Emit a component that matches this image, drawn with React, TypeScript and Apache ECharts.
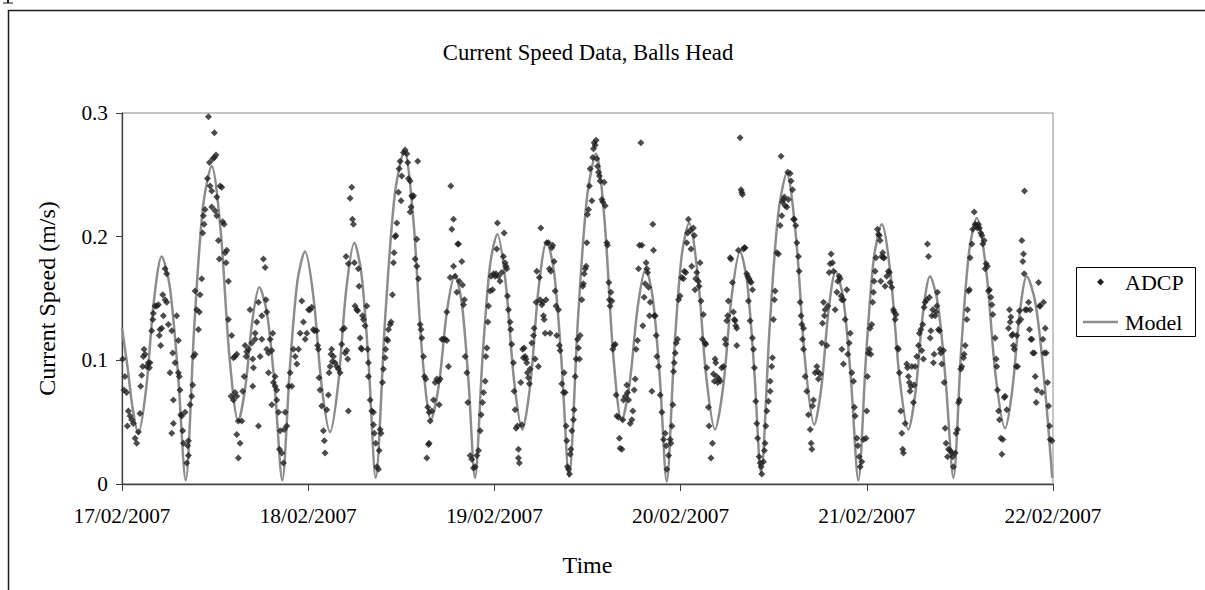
import React, { useEffect, useRef } from 'react';
import * as echarts from 'echarts';

// Axis tick labels
const dayLabels = ['17/02/2007', '18/02/2007', '19/02/2007', '20/02/2007', '21/02/2007', '22/02/2007'];
const speedTicks = ['0', '0.1', '0.2', '0.3'];

// Model current speed [hours since 17/02/2007 00:00, m/s]
const modelSpeed: [number, number][] = [
  [0, 0.126], [0.7, 0.095], [1.4, 0.06], [2.1, 0.041],
  [3.11, 0.077], [4.11, 0.148], [5.12, 0.184],
  [6.15, 0.16], [7.18, 0.092], [8.21, 0.003],
  [9.33, 0.129], [10.44, 0.224], [11.56, 0.257],
  [12.7, 0.206], [13.85, 0.103], [14.99, 0.051],
  [15.89, 0.078], [16.8, 0.132], [17.7, 0.159],
  [18.69, 0.138], [19.67, 0.08], [20.66, 0.003],
  [21.64, 0.094], [22.61, 0.164], [23.59, 0.188],
  [24.66, 0.152], [25.74, 0.079], [26.81, 0.042],
  [27.85, 0.08], [28.9, 0.157], [29.94, 0.195],
  [30.86, 0.17], [31.78, 0.098], [32.7, 0.005],
  [33.93, 0.135], [35.16, 0.234], [36.39, 0.269],
  [37.54, 0.215], [38.68, 0.106], [39.83, 0.052],
  [40.86, 0.081], [41.89, 0.14], [42.92, 0.169],
  [43.78, 0.147], [44.64, 0.085], [45.5, 0.005],
  [46.46, 0.101], [47.42, 0.176], [48.38, 0.202],
  [49.45, 0.163], [50.53, 0.084], [51.6, 0.044],
  [52.65, 0.082], [53.69, 0.158], [54.74, 0.196],
  [55.7, 0.171], [56.66, 0.098], [57.62, 0.006],
  [58.78, 0.134], [59.94, 0.232], [61.1, 0.267],
  [62.2, 0.213], [63.31, 0.105], [64.41, 0.051],
  [65.44, 0.082], [66.47, 0.143], [67.5, 0.174],
  [68.4, 0.151], [69.31, 0.087], [70.21, 0.002],
  [71.17, 0.106], [72.13, 0.184], [73.09, 0.211],
  [74.21, 0.169], [75.32, 0.086], [76.44, 0.044],
  [77.51, 0.08], [78.59, 0.152], [79.66, 0.188],
  [80.56, 0.164], [81.47, 0.094], [82.37, 0.009],
  [83.47, 0.126], [84.58, 0.218], [85.68, 0.251],
  [86.87, 0.2], [88.05, 0.099], [89.24, 0.048],
  [90.16, 0.079], [91.08, 0.141], [92.0, 0.172],
  [92.97, 0.15], [93.94, 0.086], [94.91, 0.003],
  [95.92, 0.105], [96.92, 0.183], [97.93, 0.21],
  [99.07, 0.169], [100.22, 0.086], [101.36, 0.044],
  [102.29, 0.075], [103.22, 0.137], [104.15, 0.168],
  [105.15, 0.146], [106.16, 0.084], [107.16, 0.005],
  [108.16, 0.108], [109.17, 0.187], [110.17, 0.215],
  [111.39, 0.173], [112.6, 0.088], [113.82, 0.045],
  [114.75, 0.076], [115.69, 0.137], [116.62, 0.168],
  [117.75, 0.146], [118.87, 0.084], [119.9, 0.005],
];

// ADCP measurements [hours since 17/02/2007 00:00, m/s], one list per day
const adcp17: [number, number][] = [
  [0.1, 0.101], [0.38, 0.087], [0.26, 0.076], [0.6, 0.074], [0.82, 0.059], [1.03, 0.055], [0.69, 0.047], [1.25, 0.052],
  [1.46, 0.049], [1.68, 0.037], [1.89, 0.033], [2.11, 0.042], [2.32, 0.057], [2.41, 0.079], [2.54, 0.088], [2.67, 0.095],
  [2.75, 0.103], [2.84, 0.109], [2.97, 0.105], [3.18, 0.095], [3.4, 0.098], [3.53, 0.094], [3.61, 0.098], [3.83, 0.124],
  [3.96, 0.133], [4.04, 0.138], [4.26, 0.144], [4.47, 0.144], [4.69, 0.145], [4.81, 0.12], [4.9, 0.125], [4.99, 0.112],
  [5.12, 0.126], [5.25, 0.153], [5.55, 0.149], [5.76, 0.147], [5.33, 0.136], [5.98, 0.129], [5.55, 0.174], [5.76, 0.17],
  [6.41, 0.124], [6.19, 0.09], [6.53, 0.106], [6.62, 0.068], [6.41, 0.041], [6.62, 0.049], [6.84, 0.098], [7.05, 0.136],
  [7.27, 0.116], [7.27, 0.09], [7.39, 0.087], [7.48, 0.076], [7.57, 0.056], [7.7, 0.055], [7.82, 0.043], [7.91, 0.033],
  [8.13, 0.058], [8.34, 0.017], [8.47, 0.031], [8.56, 0.035], [8.56, 0.023], [8.77, 0.064], [8.99, 0.071], [9.11, 0.08],
  [9.2, 0.103], [9.42, 0.105], [9.42, 0.156], [9.63, 0.141], [9.85, 0.125], [9.97, 0.139], [10.06, 0.153], [10.28, 0.166],
  [10.4, 0.203], [10.49, 0.217], [10.58, 0.21], [10.71, 0.222], [11.01, 0.247], [11.27, 0.26], [11.35, 0.241], [11.57, 0.237],
  [11.7, 0.263], [11.91, 0.264], [12.12, 0.266], [11.14, 0.297], [11.91, 0.284], [11.57, 0.224], [12.0, 0.221], [12.21, 0.217],
  [12.21, 0.232], [12.43, 0.197], [12.55, 0.182], [12.86, 0.24], [12.64, 0.241], [12.98, 0.212], [13.16, 0.21], [13.29, 0.187],
  [13.5, 0.189], [13.41, 0.179], [13.71, 0.164], [13.71, 0.133], [14.14, 0.12], [14.36, 0.102], [14.57, 0.103], [14.79, 0.105],
  [14.06, 0.071], [14.36, 0.068], [14.57, 0.074], [14.79, 0.071], [15.0, 0.051], [14.79, 0.04], [15.22, 0.033], [15.0, 0.021],
  [15.44, 0.051], [15.56, 0.075], [15.74, 0.087], [15.87, 0.112], [16.0, 0.103], [16.08, 0.107], [16.3, 0.109], [16.51, 0.141],
  [16.73, 0.114], [16.85, 0.101], [16.94, 0.094], [16.85, 0.079], [17.16, 0.117], [17.16, 0.122], [17.37, 0.131], [17.59, 0.047],
  [17.59, 0.147], [17.8, 0.103], [18.02, 0.117], [18.02, 0.136], [18.23, 0.182], [18.45, 0.175], [18.57, 0.149], [18.66, 0.139],
  [18.66, 0.109], [18.88, 0.106], [19.09, 0.117], [19.31, 0.108], [19.43, 0.122], [18.88, 0.09], [19.31, 0.064], [19.52, 0.082],
  [19.74, 0.079], [19.74, 0.087], [19.95, 0.068], [19.95, 0.076], [20.17, 0.058], [20.38, 0.043], [20.29, 0.028], [20.6, 0.025],
  [20.81, 0.017], [20.9, 0.044], [21.03, 0.058], [21.24, 0.047], [21.46, 0.079], [21.67, 0.09], [21.89, 0.079], [22.1, 0.109],
  [22.32, 0.103], [22.53, 0.097], [22.75, 0.109], [22.96, 0.122], [23.18, 0.148], [23.39, 0.131], [23.61, 0.117], [23.82, 0.122],
  [24.04, 0.141],
];

const adcp18: [number, number][] = [
  [24.24, 0.141], [24.45, 0.143], [24.67, 0.125], [24.79, 0.124], [25.1, 0.124], [25.22, 0.112], [25.31, 0.109], [25.4, 0.086],
  [25.53, 0.076], [25.74, 0.063], [25.96, 0.043], [26.08, 0.035], [26.17, 0.025], [26.39, 0.06], [26.6, 0.072], [26.69, 0.09],
  [26.82, 0.095], [26.94, 0.105], [27.03, 0.109], [27.12, 0.099], [27.25, 0.103], [27.46, 0.098], [27.68, 0.095], [27.89, 0.093],
  [28.11, 0.09], [28.32, 0.113], [28.41, 0.125], [28.66, 0.126], [28.75, 0.106], [28.97, 0.108], [29.09, 0.101], [29.18, 0.059],
  [28.88, 0.184], [29.18, 0.178], [29.4, 0.231], [29.61, 0.24], [29.7, 0.214], [29.83, 0.21], [29.95, 0.179], [30.04, 0.144],
  [30.26, 0.141], [30.38, 0.14], [30.47, 0.174], [30.56, 0.16], [30.69, 0.118], [30.81, 0.11], [30.9, 0.109], [30.99, 0.136],
  [31.12, 0.133], [31.33, 0.128], [31.55, 0.144], [31.67, 0.109], [31.76, 0.098], [31.76, 0.087], [31.98, 0.068], [32.19, 0.059],
  [32.41, 0.058], [32.41, 0.048], [32.53, 0.041], [32.71, 0.033], [32.84, 0.014], [33.05, 0.012], [33.14, 0.027], [33.27, 0.044],
  [33.39, 0.041], [33.57, 0.082], [33.7, 0.093], [33.91, 0.102], [33.99, 0.109], [34.13, 0.117], [34.25, 0.116], [34.34, 0.125],
  [34.56, 0.129], [34.68, 0.131], [34.86, 0.153], [34.99, 0.179], [35.07, 0.187], [35.2, 0.2], [35.29, 0.201], [35.42, 0.211],
  [35.63, 0.236], [35.72, 0.255], [35.85, 0.261], [35.97, 0.229], [36.06, 0.249], [36.28, 0.268], [36.49, 0.27], [36.71, 0.267],
  [36.83, 0.26], [36.92, 0.247], [37.14, 0.245], [37.35, 0.233], [37.44, 0.232], [37.26, 0.224], [37.14, 0.22], [37.57, 0.233],
  [38.0, 0.198], [38.12, 0.261], [37.78, 0.182], [38.0, 0.176], [38.21, 0.166], [38.43, 0.129], [38.55, 0.125], [38.64, 0.118],
  [38.86, 0.103], [38.98, 0.087], [39.16, 0.085], [39.41, 0.062], [39.59, 0.058], [39.72, 0.051], [39.29, 0.021], [39.59, 0.033],
  [39.5, 0.032], [39.93, 0.059], [40.15, 0.068], [40.36, 0.082], [40.58, 0.085], [40.79, 0.083], [40.88, 0.064], [41.01, 0.085],
  [41.22, 0.117], [41.44, 0.117], [41.65, 0.117], [41.87, 0.116], [41.87, 0.139], [42.08, 0.095], [42.3, 0.167], [42.38, 0.241],
  [42.51, 0.206], [42.73, 0.176], [42.73, 0.214], [42.94, 0.168], [43.16, 0.155], [43.28, 0.194], [43.37, 0.194], [43.46, 0.164],
  [43.8, 0.18], [43.89, 0.161], [44.14, 0.149], [44.02, 0.145], [44.23, 0.103], [44.45, 0.09], [44.57, 0.066], [44.88, 0.023],
  [45.09, 0.02], [45.31, 0.013], [45.52, 0.014], [45.74, 0.023], [45.95, 0.027], [46.17, 0.043], [46.29, 0.056], [46.47, 0.066],
  [46.6, 0.074], [46.81, 0.083], [46.9, 0.103], [47.03, 0.11], [47.16, 0.131], [47.24, 0.144], [47.46, 0.156], [47.58, 0.168],
  [47.76, 0.157], [47.89, 0.17],
];

const adcp19: [number, number][] = [
  [48.09, 0.168], [48.21, 0.17], [48.3, 0.19], [48.39, 0.211], [48.52, 0.168], [48.73, 0.164], [48.95, 0.171], [49.16, 0.184],
  [49.25, 0.203], [49.38, 0.179], [49.5, 0.176], [49.59, 0.174], [49.68, 0.152], [49.81, 0.141], [50.02, 0.131], [50.11, 0.125],
  [50.24, 0.113], [50.45, 0.098], [50.54, 0.075], [50.67, 0.06], [50.79, 0.045], [50.97, 0.047], [51.1, 0.028], [51.1, 0.021],
  [51.22, 0.017], [51.4, 0.082], [51.53, 0.048], [51.65, 0.109], [51.74, 0.102], [51.83, 0.11], [51.96, 0.103], [52.08, 0.101],
  [52.17, 0.098], [52.26, 0.09], [52.39, 0.086], [52.51, 0.081], [52.6, 0.093], [52.82, 0.114], [53.03, 0.12], [53.12, 0.126],
  [53.25, 0.101], [53.37, 0.147], [53.46, 0.172], [53.68, 0.095], [53.8, 0.167], [53.89, 0.149], [53.98, 0.207], [54.11, 0.145],
  [54.23, 0.147], [54.32, 0.136], [54.41, 0.133], [54.54, 0.122], [54.66, 0.149], [54.75, 0.195], [54.97, 0.195], [55.09, 0.174],
  [55.18, 0.122], [55.27, 0.172], [55.4, 0.191], [55.52, 0.193], [55.7, 0.18], [55.83, 0.156], [55.95, 0.144], [56.04, 0.12],
  [56.26, 0.141], [56.38, 0.112], [56.47, 0.108], [56.69, 0.081], [56.9, 0.074], [56.99, 0.09], [57.12, 0.074], [57.24, 0.047],
  [57.33, 0.035], [57.42, 0.014], [57.55, 0.012], [57.67, 0.008], [57.76, 0.024], [57.85, 0.028], [57.98, 0.043], [58.19, 0.052],
  [58.28, 0.06], [58.41, 0.087], [58.53, 0.101], [58.71, 0.117], [58.84, 0.11], [58.96, 0.101], [59.05, 0.12], [59.27, 0.149],
  [59.39, 0.16], [59.48, 0.162], [59.57, 0.17], [59.7, 0.174], [59.82, 0.176], [59.91, 0.195], [60.0, 0.218], [60.13, 0.222],
  [60.25, 0.241], [60.34, 0.255], [60.56, 0.229], [60.68, 0.264], [60.77, 0.271], [60.86, 0.276], [60.99, 0.274], [61.11, 0.278],
  [61.2, 0.263], [61.29, 0.257], [61.42, 0.252], [61.54, 0.249], [61.63, 0.245], [61.85, 0.23], [61.97, 0.228], [62.15, 0.244],
  [62.28, 0.225], [62.49, 0.195], [62.58, 0.193], [62.75, 0.163], [62.83, 0.149], [62.92, 0.144], [63.01, 0.155], [63.14, 0.148],
  [63.26, 0.109], [63.44, 0.112], [63.57, 0.113], [63.69, 0.072], [63.78, 0.055], [64.0, 0.054], [64.12, 0.037], [64.21, 0.029],
  [64.43, 0.028], [64.55, 0.052], [64.64, 0.068], [64.86, 0.071], [65.07, 0.08], [65.16, 0.074], [65.29, 0.068], [65.5, 0.049],
  [65.72, 0.052], [65.84, 0.059], [66.02, 0.076], [66.15, 0.085], [66.27, 0.109], [66.45, 0.116], [66.58, 0.174], [66.7, 0.193],
  [66.88, 0.276], [67.01, 0.193], [67.13, 0.128], [67.31, 0.151], [67.44, 0.162], [67.56, 0.179], [67.65, 0.174], [67.74, 0.171],
  [67.87, 0.159], [67.99, 0.136], [68.08, 0.147], [68.3, 0.075], [68.42, 0.21], [68.51, 0.189], [68.6, 0.136], [68.73, 0.136],
  [68.85, 0.12], [68.94, 0.103], [69.16, 0.095], [69.37, 0.072], [69.59, 0.058], [69.8, 0.036], [70.02, 0.041], [70.14, 0.031],
  [70.23, 0.012], [70.45, 0.023], [70.66, 0.036], [70.75, 0.033], [70.88, 0.047], [71.0, 0.064], [71.09, 0.091], [71.18, 0.098],
  [71.31, 0.106], [71.43, 0.114], [71.61, 0.117], [71.74, 0.149],
];

const adcp20: [number, number][] = [
  [71.93, 0.152], [72.14, 0.167], [72.36, 0.166], [72.48, 0.172], [72.66, 0.171], [72.79, 0.195], [72.91, 0.203], [73.0, 0.214],
  [73.22, 0.205], [73.34, 0.19], [73.43, 0.176], [73.65, 0.207], [73.77, 0.201], [73.86, 0.157], [73.95, 0.166], [74.08, 0.171],
  [74.29, 0.164], [74.38, 0.16], [74.51, 0.179], [74.63, 0.148], [74.81, 0.117], [74.94, 0.137], [75.15, 0.114], [75.24, 0.113],
  [75.37, 0.094], [75.58, 0.062], [75.67, 0.047], [75.92, 0.021], [76.1, 0.033], [76.23, 0.089], [76.35, 0.083], [76.44, 0.101],
  [76.53, 0.098], [76.66, 0.087], [76.78, 0.082], [76.96, 0.085], [77.09, 0.083], [77.3, 0.094], [77.52, 0.095], [77.73, 0.117],
  [77.82, 0.113], [77.95, 0.132], [78.07, 0.136], [78.16, 0.148], [78.38, 0.183], [78.5, 0.182], [78.68, 0.163], [78.81, 0.139],
  [78.93, 0.133], [79.02, 0.132], [79.11, 0.128], [79.24, 0.126], [79.24, 0.112], [79.45, 0.189], [79.67, 0.28], [79.79, 0.238],
  [79.88, 0.236], [79.97, 0.234], [80.1, 0.19], [80.22, 0.191], [80.31, 0.191], [80.53, 0.17], [80.65, 0.168], [80.83, 0.166],
  [80.96, 0.164], [81.08, 0.163], [81.26, 0.157], [80.74, 0.148], [80.96, 0.132], [81.26, 0.118], [81.39, 0.109], [81.51, 0.094],
  [81.69, 0.067], [81.82, 0.049], [81.94, 0.037], [82.12, 0.022], [82.25, 0.017], [82.37, 0.014], [82.46, 0.008], [82.68, 0.018],
  [82.8, 0.027], [82.89, 0.033], [82.98, 0.047], [83.11, 0.059], [83.32, 0.067], [83.54, 0.075], [83.54, 0.083], [83.75, 0.095],
  [83.84, 0.102], [83.97, 0.133], [84.09, 0.149], [84.18, 0.156], [84.4, 0.187], [84.61, 0.186], [84.83, 0.209], [84.95, 0.265],
  [85.04, 0.217], [85.13, 0.228], [85.26, 0.23], [85.38, 0.232], [85.47, 0.225], [85.69, 0.224], [85.81, 0.252], [85.9, 0.23],
  [86.12, 0.251], [86.24, 0.245], [86.42, 0.238], [86.55, 0.214], [86.67, 0.214], [86.85, 0.209], [86.98, 0.195], [87.19, 0.184],
  [87.28, 0.172], [87.41, 0.147], [87.53, 0.136], [87.62, 0.129], [87.84, 0.126], [87.71, 0.117], [87.84, 0.109], [88.05, 0.087],
  [88.27, 0.075], [88.48, 0.056], [88.7, 0.044], [88.82, 0.033], [88.91, 0.028], [89.0, 0.063], [89.13, 0.068], [89.34, 0.09],
  [89.56, 0.095], [89.68, 0.091], [89.77, 0.085], [89.99, 0.089], [90.2, 0.114], [90.29, 0.13], [90.42, 0.147], [90.54, 0.136],
  [90.63, 0.141], [90.85, 0.112], [90.97, 0.144], [91.15, 0.171], [91.28, 0.178], [91.4, 0.186], [91.58, 0.179], [91.71, 0.172],
  [91.92, 0.141], [92.14, 0.155], [92.26, 0.164], [92.44, 0.168], [92.57, 0.166], [92.69, 0.152], [92.78, 0.149], [92.99, 0.149],
  [92.78, 0.109], [92.99, 0.097], [93.21, 0.133], [93.43, 0.157], [93.55, 0.105], [93.73, 0.114], [93.86, 0.122], [94.07, 0.09],
  [94.29, 0.083], [94.41, 0.062], [94.5, 0.055], [94.72, 0.037], [94.85, 0.031], [95.02, 0.022], [95.15, 0.014], [95.36, 0.018],
  [95.58, 0.036],
];

const adcp21: [number, number][] = [
  [95.9, 0.037], [95.99, 0.059], [96.08, 0.087], [96.2, 0.106], [96.33, 0.109], [96.51, 0.105], [96.42, 0.126], [96.64, 0.129],
  [96.76, 0.147], [96.85, 0.155], [96.94, 0.164], [97.07, 0.172], [97.19, 0.183], [97.37, 0.206], [97.5, 0.202], [97.62, 0.201],
  [97.71, 0.197], [97.8, 0.164], [97.93, 0.184], [98.05, 0.187], [98.14, 0.183], [98.23, 0.183], [98.36, 0.16], [98.57, 0.168],
  [98.79, 0.172], [98.91, 0.171], [99.0, 0.163], [99.22, 0.159], [99.43, 0.141], [99.52, 0.139], [99.65, 0.133], [99.77, 0.137],
  [99.95, 0.11], [100.08, 0.109], [100.2, 0.09], [100.38, 0.059], [100.51, 0.041], [100.63, 0.028], [100.72, 0.025], [100.94, 0.049],
  [101.15, 0.097], [101.24, 0.094], [101.37, 0.087], [101.49, 0.082], [101.58, 0.075], [101.67, 0.079], [101.8, 0.095], [102.01, 0.066],
  [102.1, 0.08], [102.23, 0.095], [102.44, 0.103], [102.66, 0.112], [102.78, 0.122], [102.96, 0.125], [103.09, 0.108], [103.21, 0.129],
  [103.3, 0.101], [103.39, 0.143], [103.52, 0.147], [103.73, 0.149], [103.82, 0.194], [103.95, 0.184], [104.07, 0.151], [104.16, 0.118],
  [104.25, 0.124], [104.38, 0.136], [104.5, 0.141], [104.59, 0.098], [104.68, 0.105], [104.81, 0.136], [104.93, 0.139], [105.02, 0.144],
  [105.11, 0.155], [105.24, 0.125], [105.36, 0.124], [105.45, 0.109], [105.54, 0.106], [105.67, 0.097], [105.88, 0.108], [105.97, 0.082],
  [106.1, 0.045], [106.22, 0.033], [106.4, 0.022], [106.53, 0.028], [106.74, 0.027], [106.96, 0.025], [107.08, 0.022], [107.17, 0.014],
  [107.39, 0.025], [107.51, 0.041], [107.69, 0.044], [107.82, 0.066], [107.94, 0.068], [108.12, 0.093], [108.25, 0.095], [108.46, 0.102],
  [108.55, 0.105], [108.68, 0.112], [108.89, 0.133], [108.98, 0.141], [109.11, 0.156], [109.23, 0.157], [109.32, 0.183], [109.54, 0.194],
  [109.66, 0.206], [109.84, 0.22], [109.97, 0.21], [110.09, 0.209], [110.27, 0.207], [110.4, 0.21], [110.52, 0.207], [110.7, 0.203],
  [110.83, 0.201], [110.95, 0.194], [111.13, 0.197], [111.26, 0.174], [111.38, 0.178], [111.56, 0.176], [111.69, 0.156], [111.81, 0.157],
  [111.99, 0.151], [112.12, 0.145], [112.24, 0.137], [112.54, 0.118], [112.67, 0.101], [112.76, 0.095], [112.85, 0.076], [112.98, 0.059],
  [113.1, 0.052], [113.28, 0.037], [113.41, 0.024], [113.53, 0.036], [113.71, 0.07], [113.84, 0.071], [114.05, 0.06], [114.27, 0.126],
  [114.39, 0.141], [114.48, 0.131], [114.57, 0.135], [114.7, 0.12], [114.82, 0.121], [114.91, 0.112], [115.0, 0.109], [115.26, 0.095],
  [115.34, 0.12], [115.43, 0.095], [115.56, 0.131], [115.68, 0.14], [115.86, 0.133], [115.99, 0.197], [116.11, 0.18], [116.2, 0.186],
  [116.29, 0.17], [116.33, 0.237], [116.42, 0.141], [116.63, 0.141], [116.85, 0.147], [116.97, 0.125], [117.06, 0.141], [117.15, 0.117],
  [117.28, 0.117], [117.4, 0.106], [117.58, 0.106], [117.71, 0.087], [117.83, 0.066], [117.92, 0.076], [118.14, 0.163], [118.27, 0.144],
  [118.35, 0.144], [118.57, 0.074], [118.7, 0.117], [118.78, 0.147], [118.87, 0.106], [119.0, 0.126], [119.12, 0.106], [119.3, 0.082],
  [119.43, 0.063], [119.56, 0.047], [119.64, 0.036], [119.86, 0.035],
];

const seriesNames = ['ADCP', 'Model'];
const chartTitle = 'Current Speed Data, Balls Head';
const xTitle = 'Time';
const yTitle = 'Current Speed (m/s)';

const FONT = '"Liberation Serif", "Times New Roman", serif';
const TICK_SIZE = 21.3;
const TITLE_SIZE = 22.7;
const AXIS_NAME_SIZE = 24;
const LEGEND_SIZE = 22;

const POINT_COLOR = '#1f1f1f';
const LINE_COLOR = '#8c8c8c';

export default function App() {
  const ref = useRef<HTMLDivElement>(null);

  useEffect(() => {
    if (!ref.current) return;
    const chart = echarts.init(ref.current, null, { renderer: 'svg' });
    const adcp = [...adcp17, ...adcp18, ...adcp19, ...adcp20, ...adcp21];
    const tickStyle = { fontFamily: FONT, fontSize: TICK_SIZE, color: '#000' };
    const nameStyle = { fontFamily: FONT, fontSize: AXIS_NAME_SIZE, color: '#000' };
    const legendText = (text: string, y: number) => ({
      type: 'text',
      silent: true,
      x: 1125,
      y,
      style: {
        text,
        fill: '#000',
        fontFamily: FONT,
        fontSize: LEGEND_SIZE,
        textAlign: 'left',
        textVerticalAlign: 'middle',
        verticalAlign: 'middle',
      },
    });

    chart.setOption({
      animation: false,
      backgroundColor: '#ffffff',
      textStyle: { fontFamily: FONT },
      grid: {
        left: 122,
        top: 113,
        right: 152,
        bottom: 106,
        show: true,
        borderColor: LINE_COLOR,
        borderWidth: 1,
        backgroundColor: 'transparent',
      },
      xAxis: {
        type: 'value',
        min: 0,
        max: 120,
        interval: 24,
        axisLine: { show: true, onZero: false, lineStyle: { color: '#404040', width: 1.3 } },
        axisTick: { show: true, length: 7, lineStyle: { color: '#404040', width: 1 } },
        axisLabel: {
          ...tickStyle,
          margin: 21,
          formatter: (v: number) => dayLabels[Math.round(v / 24)] ?? '',
        },
        splitLine: { show: false },
        name: xTitle,
        nameLocation: 'middle',
        nameGap: 69,
        nameTextStyle: nameStyle,
      },
      yAxis: {
        type: 'value',
        min: 0,
        max: 0.3,
        interval: 0.1,
        axisLine: { show: true, onZero: false, lineStyle: { color: '#404040', width: 1.3 } },
        axisTick: { show: true, length: 6, lineStyle: { color: '#404040', width: 1 } },
        axisLabel: {
          ...tickStyle,
          margin: 14,
          formatter: (v: number) => speedTicks[Math.round(v * 10)] ?? '',
        },
        splitLine: { show: false },
        name: yTitle,
        nameLocation: 'middle',
        nameGap: 63,
        nameRotate: 90,
        nameTextStyle: nameStyle,
      },
      graphic: [
        // chart area frame (only its top and left edges fall on the page)
        {
          type: 'rect',
          silent: true,
          z: -10,
          shape: { x: 8.5, y: 10.5, width: 1400, height: 800 },
          style: { fill: 'none', stroke: '#1a1a1a', lineWidth: 1.5 },
        },
        {
          type: 'rect',
          silent: true,
          shape: { x: 7, y: 0, width: 2, height: 3 },
          style: { fill: '#1a1a1a' },
        },
        {
          type: 'rect',
          silent: true,
          shape: { x: 3, y: 2.5, width: 10, height: 1 },
          style: { fill: '#1a1a1a' },
        },
        {
          type: 'text',
          silent: true,
          x: 588,
          y: 52,
          style: {
            text: chartTitle,
            fill: '#000',
            fontFamily: FONT,
            fontSize: TITLE_SIZE,
            textAlign: 'center',
            textVerticalAlign: 'middle',
            verticalAlign: 'middle',
          },
        },
        // legend box
        {
          type: 'rect',
          silent: true,
          shape: { x: 1076.5, y: 267.5, width: 119, height: 69 },
          style: { fill: '#fff', stroke: '#000', lineWidth: 1 },
        },
        {
          type: 'polygon',
          silent: true,
          shape: { points: [[1097, 282], [1100.5, 278.5], [1104, 282], [1100.5, 285.5]] },
          style: { fill: POINT_COLOR },
        },
        legendText(seriesNames[0], 282),
        {
          type: 'line',
          silent: true,
          shape: { x1: 1083, y1: 322, x2: 1118, y2: 322 },
          style: { stroke: LINE_COLOR, lineWidth: 2.5 },
        },
        legendText(seriesNames[1], 322),
      ],
      series: [
        {
          name: seriesNames[0],
          type: 'scatter',
          data: adcp,
          symbol: 'diamond',
          symbolSize: 7,
          itemStyle: { color: POINT_COLOR },
          z: 3,
        },
        {
          name: seriesNames[1],
          type: 'line',
          data: modelSpeed,
          symbol: 'none',
          showSymbol: false,
          smooth: 0.3,
          lineStyle: { color: LINE_COLOR, width: 2.5 },
          z: 2,
        },
      ],
    });

    return () => chart.dispose();
  }, []);

  return (
    <div
      ref={ref}
      style={{ position: 'fixed', left: 0, top: 0, width: 1205, height: 590, background: '#fff' }}
    />
  );
}
